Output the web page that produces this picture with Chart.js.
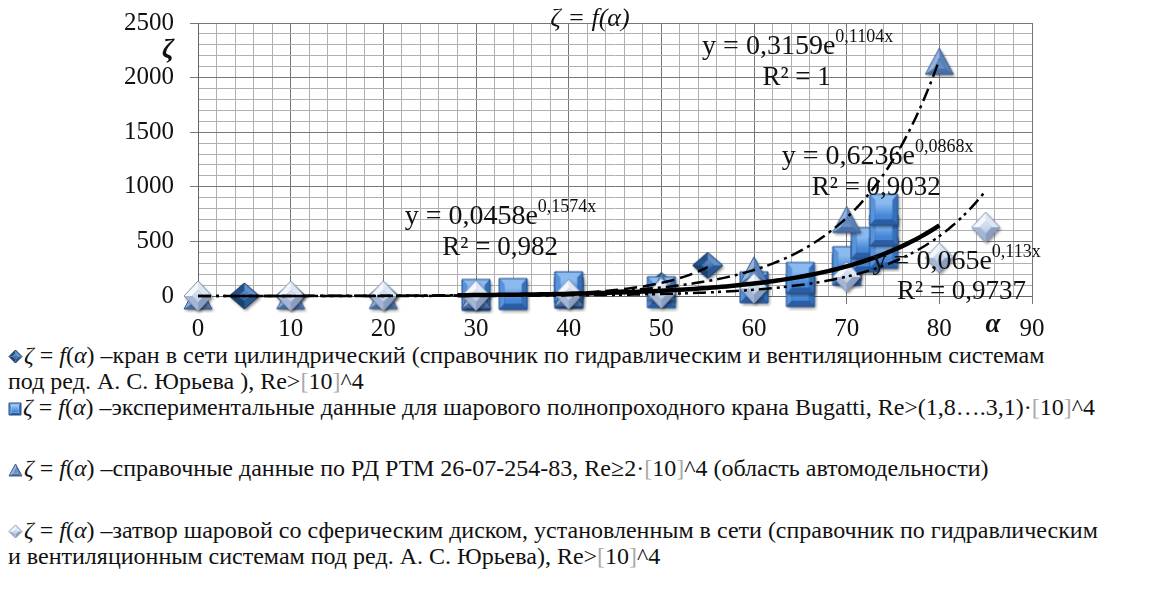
<!DOCTYPE html>
<html>
<head>
<meta charset="utf-8">
<script src="https://cdn.jsdelivr.net/npm/chart.js@4/dist/chart.umd.min.js"></script>
<style>
  html, body { margin: 0; padding: 0; background: #fff; }
  #wrap { position: relative; width: 1155px; height: 602px; overflow: hidden; }
  #c { position: absolute; left: 0; top: 0; }
  .lg { position: absolute; left: 8px; white-space: nowrap;
        font-family: "Liberation Serif", "Times New Roman", "DejaVu Serif", serif;
        font-size: 24px; line-height: 26px; color: #111; }
  .lg i { font-style: italic; }
  .lg .br { color: #aaa; }
  .lg canvas { vertical-align: -1px; margin-right: 1px; }
</style>
</head>
<body>
<div id="wrap">
  <canvas id="c" width="1155" height="340"></canvas>
  <div id="legend"></div>
</div>
<script>
// ---------- данные ----------
const ALPHA_S1 = [5, 10, 20, 30, 40, 50, 55];
const ZETA_S1  = [0.05, 0.31, 1.84, 6.15, 20.7, 95.3, 280];

const ALPHA_S2 = [30, 34, 40, 40, 50, 60, 65, 65, 70, 70, 72, 72, 74, 74, 74];
const ZETA_S2  = [10, 18, 30, 80, 35, 80, 45, 165, 240, 310, 360, 485, 395, 600, 790];

const ALPHA_S3 = [0, 10, 20, 30, 40, 50, 60, 70, 80];
const ZETA_S3  = [0.3, 1, 3, 9, 26, 79, 240, 700, 2150];

const ALPHA_S4 = [0, 10, 20, 30, 40, 50, 60, 70, 80, 85];
const ZETA_S4  = [0.1, 0.3, 1.5, 5, 15, 25, 70, 175, 350, 630];

// линии тренда y = a·e^(b·x), как подписаны на графике
const TREND_A    = [0.0458, 0.6236, 0.3159, 0.065];
const TREND_B    = [0.1574, 0.0868, 0.1104, 0.113];
const TREND_FROM = [5, 28, 0, 0];
const TREND_TO   = [55, 80, 80, 85];
const TREND_EQ   = ['y = 0,0458e', 'y = 0,6236e', 'y = 0,3159e', 'y = 0,065e'];
const TREND_POW  = ['0,1574x', '0,0868x', '0,1104x', '0,113x'];
const TREND_R2   = ['R² = 0,982', 'R² = 0,9032', 'R² = 1', 'R² = 0,9737'];

const X_TICKS = [0, 10, 20, 30, 40, 50, 60, 70, 80, 90];
const Y_TICKS = [0, 500, 1000, 1500, 2000, 2500];

const SERIF = '"Liberation Serif", "Times New Roman", "DejaVu Serif", serif';

// ---------- маркеры с фаской (как в Excel 2007) ----------
const PAL_S1 = { f: ['#5F90CC', '#2A5A94', '#1C416F', '#23518A'], face: '#2E5E9B', edge: '#183559' };
const PAL_S2 = { f: ['#8ABAF0', '#3470BC', '#2A5DA3', '#5893DA'], face: '#4586D6', edge: '#1E4C8A' };
const PAL_S3 = { f: ['#5A82BA', '#4A6FA6', '#93B4DE'], face: '#6F95C9', edge: '#3B5C8C' };
const PAL_S4 = { f: ['#DDE6F3', '#8B9EC0', '#A4B6D4', '#F4F7FB'], face: '#BCCBE2', edge: '#8596B4' };

function marker(shape, w, h, pal, shadow) {
  const pad = shadow ? 4 : 1;
  const c = document.createElement('canvas');
  c.width = w + pad * 2; c.height = h + pad * 2;
  const g = c.getContext('2d');
  g.translate(pad, pad);
  let outer;
  if (shape === 'diamond') outer = [[w / 2, 0], [w, h / 2], [w / 2, h], [0, h / 2]];
  else if (shape === 'square') outer = [[0, 0], [w, 0], [w, h], [0, h]];
  else outer = [[w / 2, 0], [w, h], [0, h]];
  const cx = outer.reduce((s, p) => s + p[0], 0) / outer.length;
  const cy = shape === 'triangle' ? h * 0.64 : h / 2;
  const k = shape === 'square' ? 0.62 : 0.42;
  const inner = outer.map(p => [cx + (p[0] - cx) * k, cy + (p[1] - cy) * k]);
  const poly = pts => { g.beginPath(); pts.forEach((p, i) => i ? g.lineTo(p[0], p[1]) : g.moveTo(p[0], p[1])); g.closePath(); };

  if (shadow) {
    g.save();
    g.shadowColor = 'rgba(0,0,0,0.45)'; g.shadowBlur = 3; g.shadowOffsetX = 1.5; g.shadowOffsetY = 2;
    poly(outer); g.fillStyle = pal.edge; g.fill();
    g.restore();
  }
  // грани: для квадрата верх/право/низ/лево, для ромба пр.верх/пр.низ/лев.низ/лев.верх
  outer.forEach((p, i) => {
    const q = outer[(i + 1) % outer.length];
    poly([p, q, inner[(i + 1) % outer.length], inner[i]]);
    g.fillStyle = pal.f[i];
    g.fill();
  });
  poly(inner);
  const gr = g.createLinearGradient(0, cy - h * 0.2, 0, cy + h * 0.2);
  gr.addColorStop(0, pal.f[0]); gr.addColorStop(1, pal.face);
  g.fillStyle = gr; g.fill();
  poly(outer);
  g.strokeStyle = pal.edge; g.lineWidth = 1; g.stroke();
  return c;
}

const M1 = marker('diamond', 30, 26, PAL_S1, true);
const M2 = marker('square', 28, 31, PAL_S2, true);
const M3 = marker('triangle', 28, 26, PAL_S3, true);
const M4 = marker('diamond', 28, 30, PAL_S4, true);

// ---------- вспомогательные ----------
function pts(xs, ys) { return xs.map((x, i) => ({ x, y: ys[i] })); }

function trendPts(i) {
  const out = [];
  for (let x = TREND_FROM[i]; x <= TREND_TO[i] + 1e-9; x += 0.5) {
    out.push({ x, y: TREND_A[i] * Math.exp(TREND_B[i] * x) });
  }
  return out;
}

function scatterSet(data, style, order) {
  return { data, pointStyle: style, pointRadius: 14, showLine: false, clip: false, order };
}

function trendSet(i, width, dash, order) {
  return {
    data: trendPts(i), showLine: true, pointRadius: 0, borderColor: '#000',
    borderWidth: width, borderDash: dash, clip: false, order,
    borderCapStyle: 'butt', tension: 0
  };
}

// ---------- подписи на графике ----------
const EQ_POS = [      // левый край уравнения и центр строки R², в единицах осей
  { ex: 22.3, ey: 723,  rx: 32.6, ry: 440 },
  { ex: 63.0, ey: 1273, rx: 73.2, ry: 989 },
  { ex: 54.4, ey: 2280, rx: 64.6, ry: 1996 },
  { ex: 72.8, ey: 311,  rx: 82.4, ry: 37 }
];

const textPlugin = {
  id: 'textPlugin',
  afterDraw(chart) {
    const { ctx, scales: { x, y } } = chart;
    ctx.save();
    ctx.fillStyle = '#111';
    ctx.textBaseline = 'middle';

    // заголовок
    ctx.font = 'italic 26px ' + SERIF;
    ctx.textAlign = 'center';
    ctx.fillText('ζ = f(α)', 590, 19);

    // подписи осей
    ctx.font = 'bold italic 27px ' + SERIF;
    ctx.fillText('ζ', 168, 50);
    ctx.fillText('α', 993, 325);

    // уравнения трендов
    EQ_POS.forEach((p, i) => {
      const px = x.getPixelForValue(p.ex), py = y.getPixelForValue(p.ey);
      ctx.textAlign = 'left';
      ctx.font = '28px ' + SERIF;
      ctx.fillText(TREND_EQ[i], px, py);
      const w = ctx.measureText(TREND_EQ[i]).width;
      ctx.font = '18px ' + SERIF;
      ctx.fillText(TREND_POW[i], px + w, py - 10);
      ctx.textAlign = 'center';
      ctx.font = '27px ' + SERIF;
      ctx.fillText(TREND_R2[i], x.getPixelForValue(p.rx), y.getPixelForValue(p.ry));
    });
    ctx.restore();
  }
};

// ---------- график ----------
new Chart(document.getElementById('c'), {
  type: 'scatter',
  data: {
    datasets: [
      scatterSet(pts(ALPHA_S1, ZETA_S1), M1, 18),
      scatterSet(pts(ALPHA_S2, ZETA_S2), M2, 17),
      scatterSet(pts(ALPHA_S3, ZETA_S3), M3, 16),
      scatterSet(pts(ALPHA_S4, ZETA_S4), M4, 15),
      trendSet(0, 2.5, [13, 6], 4),
      trendSet(1, 4.5, [], 3),
      trendSet(2, 2.5, [13, 5, 3, 5], 2),
      trendSet(3, 2.5, [13, 5, 3, 4, 3, 5], 1)
    ]
  },
  options: {
    responsive: false,
    animation: false,
    layout: { padding: { left: 0, right: 123, top: 23, bottom: 0 } },
    plugins: { legend: { display: false }, tooltip: { enabled: false } },
    scales: {
      x: {
        type: 'linear', min: 0, max: 90,
        afterFit: s => { s.height = 44; s.paddingLeft = 0; s.paddingRight = 0; },
        ticks: {
          stepSize: 2, autoSkip: false, maxRotation: 0, padding: 10,
          callback: v => X_TICKS.includes(v) ? v : '',
          color: '#111', font: { family: SERIF, size: 25 }
        },
        grid: {
          color: c => X_TICKS.includes(c.tick.value) ? '#777' : '#b0b0b0',
          tickColor: c => X_TICKS.includes(c.tick.value) ? '#777' : 'rgba(0,0,0,0)',
          tickLength: 8, lineWidth: 1
        },
        border: { color: '#666', width: 1 }
      },
      y: {
        type: 'linear', min: 0, max: 2500,
        afterFit: s => { s.width = 198; s.paddingTop = 0; s.paddingBottom = 0; },
        ticks: {
          stepSize: 100, autoSkip: false, padding: 16,
          callback: v => Y_TICKS.includes(v) ? v : '',
          color: '#111', font: { family: SERIF, size: 25 }
        },
        grid: {
          color: c => Y_TICKS.includes(c.tick.value) ? '#777' : '#b0b0b0',
          tickColor: c => Y_TICKS.includes(c.tick.value) ? '#777' : 'rgba(0,0,0,0)',
          tickLength: 8, lineWidth: 1
        },
        border: { color: '#666', width: 1 }
      }
    }
  },
  plugins: [textPlugin]
});

// ---------- легенда ----------
const F = '<i>ζ</i> = <i>f</i>(<i>α</i>) –';
const TEN = '<span class="br">[</span>10<span class="br">]</span>^4';
const LEGEND_LINES = [
  { top: 342, mk: marker('diamond', 13, 13, PAL_S1, false), html: F + 'кран в сети цилиндрический (справочник по гидравлическим и  вентиляционным системам' },
  { top: 368, mk: null, html: 'под ред. А. С. Юрьева ), Re>' + TEN },
  { top: 394, mk: marker('square', 12, 12, PAL_S2, false), html: F + 'экспериментальные данные  для шарового полнопроходного крана Bugatti, Re>(1,8….3,1)·' + TEN },
  { top: 455, mk: marker('triangle', 13, 12, PAL_S3, false), html: F + 'справочные данные по РД РТМ 26-07-254-83, Re≥2·' + TEN + ' (область автомодельности)' },
  { top: 517, mk: marker('diamond', 13, 13, PAL_S4, false), html: F + 'затвор шаровой со сферическим диском, установленным в сети (справочник по гидравлическим' },
  { top: 543, mk: null, html: 'и вентиляционным системам под ред. А. С. Юрьева), Re>' + TEN }
];
const legendEl = document.getElementById('legend');
LEGEND_LINES.forEach(l => {
  const d = document.createElement('div');
  d.className = 'lg';
  d.style.top = l.top + 'px';
  if (l.mk) d.appendChild(l.mk);
  const s = document.createElement('span');
  s.innerHTML = l.html;
  d.appendChild(s);
  legendEl.appendChild(d);
});
</script>
</body>
</html>
